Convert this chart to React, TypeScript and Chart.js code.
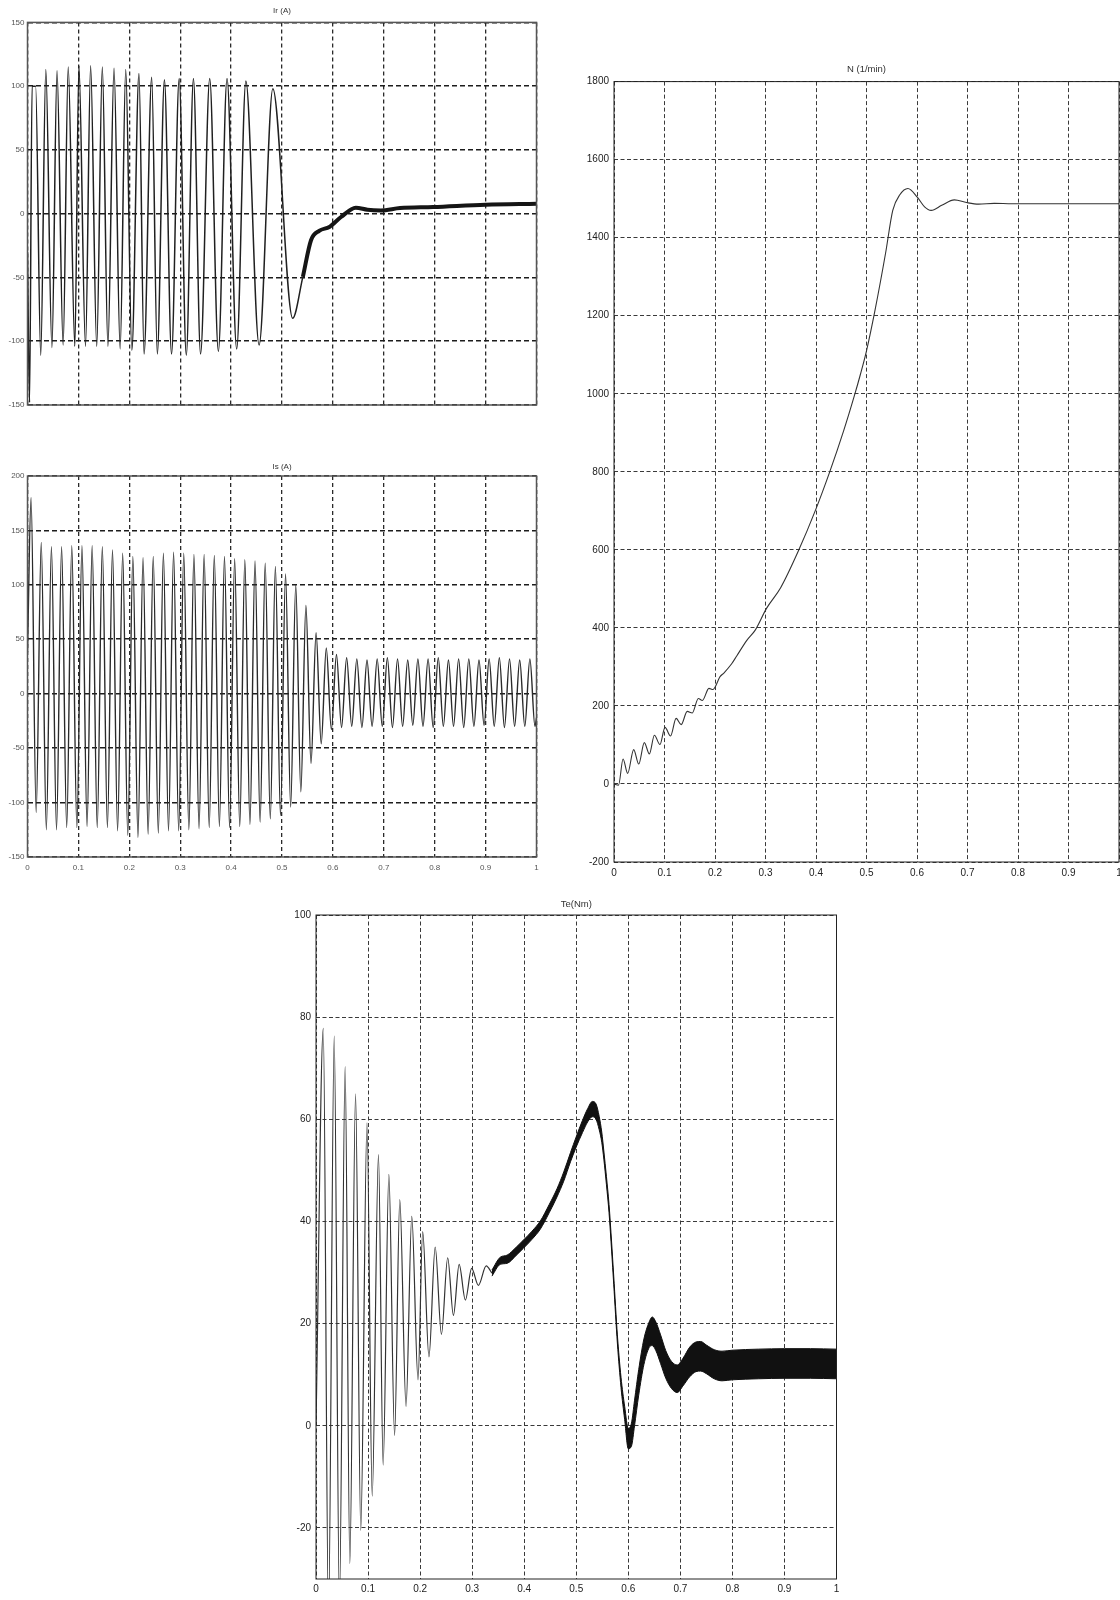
import React, { useEffect, useRef } from "react";
import { Chart, registerables } from "chart.js";

Chart.register(...registerables);
Chart.defaults.font.family = "'Liberation Sans', Arial, Helvetica, sans-serif";

// ---------------- Data ----------------
const X_TICKS = [0, 0.1, 0.2, 0.3, 0.4, 0.5, 0.6, 0.7, 0.8, 0.9, 1];
const X_LABELS = ["0", "0.1", "0.2", "0.3", "0.4", "0.5", "0.6", "0.7", "0.8", "0.9", "1"];

// Ir (A): rotor current, turning points
const IR_T = [0, 0.004, 0.009, 0.016, 0.026, 0.036, 0.048, 0.058, 0.070, 0.080, 0.093, 0.101, 0.114, 0.124, 0.136, 0.147, 0.158, 0.170, 0.182, 0.193, 0.205, 0.219, 0.229, 0.244, 0.255, 0.269, 0.283, 0.298, 0.312, 0.326, 0.340, 0.358, 0.375, 0.392, 0.411, 0.429, 0.455, 0.482, 0.521, 0.541, 0.557, 0.573, 0.593, 0.616, 0.645, 0.668, 0.694, 0.732, 0.797, 0.900, 1.0];
const IR_V = [-30, -148, 100, 100, -111, 113, -105, 112, -103, 115, -104, 116, -104, 116, -104, 115, -104, 114, -106, 113, -107, 110, -110, 107, -110, 105, -110, 106, -111, 106, -110, 106, -108, 106, -106, 104, -103, 98, -82, -49.5, -20.8, -13.5, -10.4, -2.6, 4.7, 3.1, 2.6, 4.4, 5.2, 7, 7.8];
const IR_Y_TICKS = [-150, -100, -50, 0, 50, 100, 150];

// Is (A): stator current, peaks and troughs
const IS_PEAK_T = [0.007, 0.027, 0.047, 0.067, 0.087, 0.107, 0.127, 0.147, 0.167, 0.187, 0.207, 0.227, 0.247, 0.267, 0.287, 0.307, 0.327, 0.347, 0.367, 0.387, 0.407, 0.427, 0.447, 0.467, 0.487, 0.507, 0.527, 0.547, 0.567, 0.587, 0.607, 0.627, 0.647, 0.667, 0.687, 0.707, 0.727, 0.747, 0.767, 0.787, 0.807, 0.827, 0.847, 0.867, 0.887, 0.907, 0.927, 0.947, 0.967, 0.987];
const IS_PEAK_V = [180, 139, 135, 135, 136, 136, 136, 135, 132, 129, 126, 125, 126, 129, 130, 129, 128, 128, 127, 126, 124, 123, 122, 120, 117, 110, 100, 81, 56, 42, 36, 33, 32, 31, 32, 33, 32, 31, 32, 32, 33, 31, 32, 32, 31, 32, 33, 32, 31, 32];
const IS_TROUGH_T = [0.017, 0.037, 0.057, 0.077, 0.097, 0.117, 0.137, 0.157, 0.177, 0.197, 0.217, 0.237, 0.257, 0.277, 0.297, 0.317, 0.337, 0.357, 0.377, 0.397, 0.417, 0.437, 0.457, 0.477, 0.497, 0.517, 0.537, 0.557, 0.577, 0.597, 0.617, 0.637, 0.657, 0.677, 0.697, 0.717, 0.737, 0.757, 0.777, 0.797, 0.817, 0.837, 0.857, 0.877, 0.897, 0.917, 0.937, 0.957, 0.977, 0.997];
const IS_TROUGH_V = [-109, -125, -125, -123, -123, -122, -123, -123, -126, -130, -132, -129, -128, -126, -126, -125, -124, -123, -122, -123, -122, -120, -118, -115, -112, -104, -90, -64, -46, -33, -31, -30, -31, -30, -30, -31, -30, -29, -30, -31, -30, -30, -31, -30, -29, -30, -31, -30, -30, -30];
const IS_START = { x: 0, y: 38 };
const IS_END = { x: 1, y: -22 };
const IS_Y_TICKS = [-150, -100, -50, 0, 50, 100, 150, 200];

// N (1/min): speed
const N_T = [0, 0.009, 0.018, 0.027, 0.039, 0.049, 0.060, 0.070, 0.080, 0.091, 0.101, 0.112, 0.123, 0.133, 0.145, 0.155, 0.167, 0.175, 0.188, 0.196, 0.210, 0.218, 0.233, 0.243, 0.263, 0.280, 0.302, 0.330, 0.365, 0.400, 0.427, 0.455, 0.476, 0.488, 0.500, 0.517, 0.538, 0.552, 0.566, 0.582, 0.601, 0.615, 0.628, 0.649, 0.674, 0.698, 0.722, 0.753, 0.788, 0.850, 1.0];
const N_V = [0, -3, 64, 27, 88, 51, 106, 77, 125, 101, 145, 123, 168, 152, 186, 182, 219, 214, 245, 242, 275, 285, 308, 328, 368, 395, 450, 503, 597, 705, 799, 906, 995, 1050, 1110, 1215, 1362, 1470, 1510, 1526, 1503, 1479, 1470, 1483, 1497, 1490, 1486, 1488, 1487, 1487, 1487];
const N_Y_TICKS = [-200, 0, 200, 400, 600, 800, 1000, 1200, 1400, 1600, 1800];

// Te (Nm): torque, oscillating start
const TE_T = [0, 0.014, 0.024, 0.035, 0.045, 0.056, 0.065, 0.076, 0.086, 0.098, 0.108, 0.120, 0.129, 0.140, 0.151, 0.161, 0.173, 0.184, 0.196, 0.205, 0.217, 0.229, 0.241, 0.253, 0.264, 0.275, 0.287, 0.299, 0.312, 0.327, 0.338];
const TE_V = [0, 77.8, -38, 76.3, -35, 70.3, -27, 65, -20.5, 59.3, -13.8, 53.1, -7.7, 49.2, -1.9, 44.3, 3.8, 41, 9, 38, 13.5, 35, 17.9, 32.9, 21.6, 31.6, 24.6, 30.8, 27.5, 31.3, 29.9];
// Te noisy band: upper / lower envelope
const TE_BAND_T = [0.338, 0.354, 0.367, 0.385, 0.398, 0.415, 0.431, 0.448, 0.463, 0.476, 0.489, 0.500, 0.512, 0.522, 0.531, 0.538, 0.544, 0.549, 0.553, 0.558, 0.563, 0.568, 0.572, 0.579, 0.586, 0.593, 0.600, 0.606, 0.612, 0.620, 0.630, 0.640, 0.646, 0.653, 0.662, 0.672, 0.683, 0.694, 0.705, 0.718, 0.730, 0.739, 0.750, 0.765, 0.780, 0.800, 0.850, 0.900, 0.950, 1.000];
const TE_BAND_HI = [30.5, 33.0, 33.4, 35.0, 36.3, 38.1, 40.1, 43.3, 46.4, 49.7, 53.5, 56.6, 59.8, 62.1, 63.5, 63.0, 60.6, 57.5, 53.8, 48.8, 43.3, 35.8, 29.3, 17.8, 9.5, 3.8, -0.5, 0.5, 5.0, 11.0, 17.0, 20.3, 21.3, 20.3, 17.8, 14.7, 12.6, 11.9, 13.2, 15.4, 16.4, 16.5, 15.8, 14.9, 14.6, 14.8, 15.0, 15.1, 15.1, 15.0];
const TE_BAND_LO = [29.3, 31.6, 31.8, 33.4, 34.7, 36.5, 38.5, 41.7, 44.8, 47.9, 51.7, 54.6, 57.4, 59.5, 60.5, 60.0, 58.0, 55.5, 52.2, 47.2, 41.7, 34.2, 27.7, 16.2, 7.5, 1.2, -4.5, -4.0, 0.0, 6.0, 12.0, 15.3, 15.7, 14.7, 12.2, 9.3, 7.3, 6.5, 7.8, 9.6, 10.6, 10.7, 10.2, 9.2, 8.8, 9.0, 9.2, 9.3, 9.3, 9.2];
const TE_Y_TICKS = [-20, 0, 20, 40, 60, 80, 100];

// ---------------- helpers ----------------
type Pt = { x: number; y: number };
const zip = (t: number[], v: number[]): Pt[] => t.map((x, i) => ({ x, y: v[i] }));

const IR_PTS = zip(IR_T, IR_V);
const IR_SPLIT = 0.541;
const IS_PTS: Pt[] = [IS_START, ...zip(IS_PEAK_T, IS_PEAK_V), ...zip(IS_TROUGH_T, IS_TROUGH_V), IS_END].sort((a, b) => a.x - b.x);

const framePlugin = {
  id: "frame",
  afterDraw(chart: any, _args: any, opts: any) {
    const { ctx, chartArea: a } = chart;
    ctx.save();
    ctx.setLineDash([]);
    ctx.strokeStyle = opts.color || "#000";
    ctx.lineWidth = opts.width || 1;
    ctx.strokeRect(a.left, a.top, a.right - a.left, a.bottom - a.top);
    ctx.restore();
  },
};

interface Spec {
  left: number; top: number; width: number; height: number;
  yAxisW: number; xAxisH: number; padRight: number;
  title: string; titleSize: number; titlePadTop: number; titlePadBottom: number;
  yMin: number; yMax: number; yTicks: number[];
  showX: boolean; tickSize: number; tickColor: string; tickPadX: number; tickPadY: number;
  hGrid: { color: string; width: number; dash: number[] };
  vGrid: { color: string; width: number; dash: number[] };
  frame: { color: string; width: number };
  datasets: any[];
}

const line = (data: Pt[], color: string, width: number, extra: any = {}) => ({
  data,
  borderColor: color,
  backgroundColor: color,
  borderWidth: width,
  pointRadius: 0,
  fill: false,
  cubicInterpolationMode: "monotone",
  clip: 0,
  ...extra,
});

function buildConfig(s: Spec): any {
  return {
    type: "line",
    data: { datasets: s.datasets },
    plugins: [framePlugin],
    options: {
      responsive: false,
      maintainAspectRatio: false,
      animation: false,
      devicePixelRatio: 1,
      events: [],
      layout: { padding: { left: 0, top: 0, bottom: 0, right: s.padRight } },
      plugins: {
        legend: { display: false },
        tooltip: { enabled: false },
        frame: s.frame,
        title: {
          display: true,
          text: s.title,
          fullSize: false,
          color: "#333",
          font: { size: s.titleSize, weight: "normal" },
          padding: { top: s.titlePadTop, bottom: s.titlePadBottom },
        },
      },
      scales: {
        x: {
          type: "linear",
          min: 0,
          max: 1,
          afterBuildTicks: (ax: any) => { ax.ticks = X_TICKS.map((v) => ({ value: v })); },
          afterFit: (ax: any) => { ax.height = s.xAxisH; ax.paddingLeft = 0; ax.paddingRight = 0; },
          ticks: {
            display: s.showX,
            autoSkip: false,
            maxRotation: 0,
            padding: s.tickPadX,
            color: s.tickColor,
            font: { size: s.tickSize },
            callback: (_v: any, i: number) => X_LABELS[i],
          },
          grid: { color: s.vGrid.color, lineWidth: s.vGrid.width, drawTicks: false },
          border: { display: false, dash: s.vGrid.dash },
        },
        y: {
          type: "linear",
          min: s.yMin,
          max: s.yMax,
          afterBuildTicks: (ax: any) => { ax.ticks = s.yTicks.map((v) => ({ value: v })); },
          afterFit: (ax: any) => { ax.width = s.yAxisW; ax.paddingTop = 0; ax.paddingBottom = 0; },
          ticks: {
            autoSkip: false,
            padding: s.tickPadY,
            color: s.tickColor,
            font: { size: s.tickSize },
            callback: (v: any) => String(v),
          },
          grid: { color: s.hGrid.color, lineWidth: s.hGrid.width, drawTicks: false },
          border: { display: false, dash: s.hGrid.dash },
        },
      },
    },
  };
}

function Panel({ spec }: { spec: Spec }) {
  const ref = useRef<HTMLCanvasElement>(null);
  useEffect(() => {
    const chart = new Chart(ref.current as HTMLCanvasElement, buildConfig(spec));
    return () => chart.destroy();
  }, []);
  return (
    <canvas
      ref={ref}
      width={spec.width}
      height={spec.height}
      style={{ position: "absolute", left: spec.left, top: spec.top, width: spec.width, height: spec.height }}
    />
  );
}

const LEFT_H_GRID = { color: "#1c1c1c", width: 1.6, dash: [5, 3] };
const LEFT_V_GRID = { color: "#2a2a2a", width: 1.3, dash: [4, 3] };
const THIN_GRID = { color: "#3a3a3a", width: 1, dash: [4, 2.5] };

const SPECS: Spec[] = [
  {
    left: 0, top: 0, width: 545, height: 420,
    yAxisW: 27.5, xAxisH: 15, padRight: 8.5,
    title: "Ir (A)", titleSize: 8, titlePadTop: 6, titlePadBottom: 6.8,
    yMin: -150, yMax: 150, yTicks: IR_Y_TICKS,
    showX: false, tickSize: 8, tickColor: "#555", tickPadX: 5, tickPadY: 3,
    hGrid: LEFT_H_GRID, vGrid: LEFT_V_GRID, frame: { color: "#555", width: 1.5 },
    datasets: [
      line(IR_PTS.filter((p) => p.x <= IR_SPLIT), "#202020", 1.5),
      line(IR_PTS.filter((p) => p.x >= IR_SPLIT), "#151515", 4),
    ],
  },
  {
    left: 0, top: 450, width: 545, height: 430,
    yAxisW: 27.5, xAxisH: 23, padRight: 8.5,
    title: "Is (A)", titleSize: 8, titlePadTop: 12.2, titlePadBottom: 4.2,
    yMin: -150, yMax: 200, yTicks: IS_Y_TICKS,
    showX: true, tickSize: 8, tickColor: "#555", tickPadX: 6, tickPadY: 3,
    hGrid: LEFT_H_GRID, vGrid: LEFT_V_GRID, frame: { color: "#555", width: 1.5 },
    datasets: [line(IS_PTS, "#2b2b2b", 1.4)],
  },
  {
    left: 560, top: 50, width: 560, height: 840,
    yAxisW: 54, xAxisH: 28, padRight: 1,
    title: "N (1/min)", titleSize: 9.5, titlePadTop: 13.7, titlePadBottom: 6.5,
    yMin: -200, yMax: 1800, yTicks: N_Y_TICKS,
    showX: true, tickSize: 10, tickColor: "#222", tickPadX: 5, tickPadY: 5,
    hGrid: THIN_GRID, vGrid: THIN_GRID, frame: { color: "#222", width: 1 },
    datasets: [line(zip(N_T, N_V), "#333", 1.1)],
  },
  {
    left: 270, top: 880, width: 580, height: 720,
    yAxisW: 46, xAxisH: 21, padRight: 13.5,
    title: "Te(Nm)", titleSize: 9.5, titlePadTop: 19, titlePadBottom: 4.6,
    yMin: -30, yMax: 100, yTicks: TE_Y_TICKS,
    showX: true, tickSize: 10, tickColor: "#222", tickPadX: 4, tickPadY: 5,
    hGrid: THIN_GRID, vGrid: THIN_GRID, frame: { color: "#222", width: 1 },
    datasets: [
      line(zip(TE_T, TE_V), "#333", 1.2),
      line(zip(TE_BAND_T, TE_BAND_HI), "#111", 1, { fill: "+1", backgroundColor: "#111" }),
      line(zip(TE_BAND_T, TE_BAND_LO), "#111", 1),
    ],
  },
];

export default function App() {
  return (
    <div style={{ position: "absolute", left: 0, top: 0, width: 1120, height: 1600, background: "#fff" }}>
      {SPECS.map((s, i) => (
        <Panel key={i} spec={s} />
      ))}
    </div>
  );
}
